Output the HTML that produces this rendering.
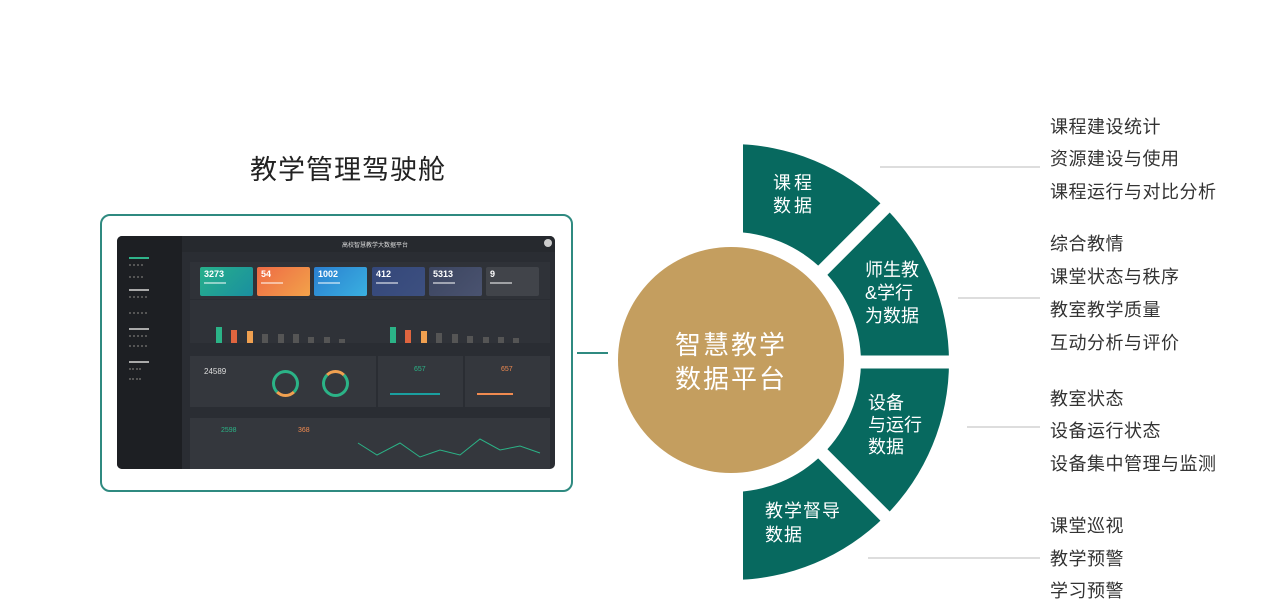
<!DOCTYPE html>
<html><head><meta charset="utf-8">
<style>
*{margin:0;padding:0;box-sizing:border-box}
body{width:1270px;height:608px;background:#fff;position:relative;overflow:hidden;font-family:"Liberation Sans","Noto Sans CJK SC",sans-serif}
.a{position:absolute}
.r{font-size:18px;color:#333;line-height:20px;white-space:nowrap;letter-spacing:0.5px}
.card{position:absolute;top:267px;height:29px;width:53px;border-radius:2px;color:#fff;font-size:9px;font-weight:bold;padding:2px 4px}
.card i{display:block;width:22px;height:2px;background:rgba(255,255,255,.5);margin-top:3px}
.pn{position:absolute;background:#34373d}
.bar{position:absolute;width:6px;bottom:0}
</style></head><body>
<div class="a" style="left:250px;top:148px;font-size:27px;color:#222;letter-spacing:1px">教学管理驾驶舱</div>
<div class="a" style="left:100px;top:214px;width:473px;height:278px;border:2px solid #2f8a80;border-radius:10px"></div>
<div class="a" style="left:577px;top:352px;width:31px;height:2px;background:#2f8a80"></div>

<!-- dashboard -->
<div class="a" style="left:117px;top:236px;width:438px;height:233px;background:#2a2d33;border-radius:5px;overflow:hidden">
  <div class="a" style="left:0;top:0;width:65px;height:233px;background:#1d1f23"></div>
  <div class="a" style="left:65px;top:0;width:373px;height:16px;background:#26292e"></div>
  <div class="a" style="left:225px;top:4px;font-size:6px;color:#ddd">高校智慧教学大数据平台</div>
  <div class="a" style="left:427px;top:3px;width:8px;height:8px;border-radius:50%;background:#ccc"></div>
  <div class="a" style="left:12px;top:21px;width:20px;height:2px;background:#2fb38a"></div>
  <div class="a" style="left:12px;top:28px;width:14px;height:14px;border-top:2px dotted #555;border-bottom:2px dotted #555"></div>
  <div class="a" style="left:12px;top:53px;width:20px;height:2px;background:#aaa"></div>
  <div class="a" style="left:12px;top:60px;width:18px;height:18px;border-top:2px dotted #555;border-bottom:2px dotted #555"></div>
  <div class="a" style="left:12px;top:92px;width:20px;height:2px;background:#aaa"></div>
  <div class="a" style="left:12px;top:99px;width:18px;height:12px;border-top:2px dotted #555;border-bottom:2px dotted #555"></div>
  <div class="a" style="left:12px;top:125px;width:20px;height:2px;background:#aaa"></div>
  <div class="a" style="left:12px;top:132px;width:12px;height:12px;border-top:2px dotted #555;border-bottom:2px dotted #555"></div>
</div>
<div class="pn" style="left:190px;top:262px;width:360px;height:37px;background:#2f3238"></div>
<div class="card" style="left:200px;background:linear-gradient(135deg,#27b08a,#1a8fa0)">3273<i></i></div>
<div class="card" style="left:257px;background:linear-gradient(135deg,#ee6a45,#f2a24a)">54<i></i></div>
<div class="card" style="left:314px;background:linear-gradient(135deg,#2a7fd0,#3ab0e0)">1002<i></i></div>
<div class="card" style="left:372px;background:linear-gradient(135deg,#34477a,#3d5080)">412<i></i></div>
<div class="card" style="left:429px;background:linear-gradient(135deg,#3c4560,#4a5370)">5313<i></i></div>
<div class="card" style="left:486px;background:#41444a">9<i></i></div>
<div class="pn" style="left:190px;top:300px;width:360px;height:43px;background:#2f3238">
  <div class="bar" style="left:26px;height:16px;background:#2bb387"></div>
  <div class="bar" style="left:41px;height:13px;background:#e0653f"></div>
  <div class="bar" style="left:57px;height:12px;background:#f0a050"></div>
  <div class="bar" style="left:72px;height:9px;background:#555"></div>
  <div class="bar" style="left:88px;height:9px;background:#555"></div>
  <div class="bar" style="left:103px;height:9px;background:#555"></div>
  <div class="bar" style="left:118px;height:6px;background:#555"></div>
  <div class="bar" style="left:134px;height:6px;background:#555"></div>
  <div class="bar" style="left:149px;height:4px;background:#555"></div>
  <div class="bar" style="left:200px;height:16px;background:#2bb387"></div>
  <div class="bar" style="left:215px;height:13px;background:#e0653f"></div>
  <div class="bar" style="left:231px;height:12px;background:#f0a050"></div>
  <div class="bar" style="left:246px;height:10px;background:#555"></div>
  <div class="bar" style="left:262px;height:9px;background:#555"></div>
  <div class="bar" style="left:277px;height:7px;background:#555"></div>
  <div class="bar" style="left:293px;height:6px;background:#555"></div>
  <div class="bar" style="left:308px;height:6px;background:#555"></div>
  <div class="bar" style="left:323px;height:5px;background:#555"></div>
</div>
<div class="pn" style="left:190px;top:356px;width:186px;height:51px"></div>
<div class="pn" style="left:378px;top:356px;width:85px;height:51px"></div>
<div class="pn" style="left:465px;top:356px;width:85px;height:51px"></div>
<div class="a" style="left:204px;top:367px;font-size:8px;color:#ddd">24589</div>
<div class="a" style="left:272px;top:370px;width:27px;height:27px;border-radius:50%;border:3px solid #2bb387;border-bottom-color:#f0a050"></div>
<div class="a" style="left:322px;top:370px;width:27px;height:27px;border-radius:50%;border:3px solid #2bb387;border-top-color:#f0a050"></div>
<div class="a" style="left:414px;top:366px;font-size:7px;color:#2bb387">657</div>
<div class="a" style="left:390px;top:393px;width:50px;height:2px;background:#1a9fa0"></div>
<div class="a" style="left:501px;top:366px;font-size:7px;color:#f08a50">657</div>
<div class="a" style="left:477px;top:393px;width:36px;height:2px;background:#f08a50"></div>
<div class="pn" style="left:190px;top:418px;width:360px;height:51px"></div>
<div class="a" style="left:221px;top:427px;font-size:7px;color:#2bb387">2598</div>
<div class="a" style="left:298px;top:427px;font-size:7px;color:#f08a50">368</div>
<svg class="a" style="left:355px;top:435px" width="195" height="30"><polyline points="3,8 22,20 45,8 65,22 85,15 105,20 125,4 145,15 165,11 185,18" fill="none" stroke="#2bb387" stroke-width="1"/></svg>

<!-- ring -->
<svg class="a" style="left:0;top:0" width="1270" height="608">
  <defs><clipPath id="c"><rect x="743" y="0" width="400" height="608"/></clipPath></defs>
  <g clip-path="url(#c)">
    <path d="M731,144 A218,218 0 0 1 731,580 L731,492 A130,130 0 0 0 731,232 Z" fill="#07695f"/>
  </g>
  <g stroke="#fff" stroke-width="13">
    <line x1="731" y1="362" x2="911" y2="182"/>
    <line x1="731" y1="362" x2="980" y2="362"/>
    <line x1="731" y1="362" x2="911" y2="542"/>
  </g>
  <circle cx="731" cy="360" r="113" fill="#c49e5f"/>
  <g stroke="#bbb" stroke-width="1">
    <line x1="880" y1="167" x2="1040" y2="167"/>
    <line x1="958" y1="298" x2="1040" y2="298"/>
    <line x1="967" y1="427" x2="1040" y2="427"/>
    <line x1="868" y1="558" x2="1040" y2="558"/>
  </g>
</svg>
<div class="a" style="left:631px;top:328px;font-size:26px;color:#fff;line-height:34px;letter-spacing:2px;text-align:center;width:200px;white-space:nowrap">智慧教学<br>数据平台</div>
<div class="a" style="left:773px;top:172px;font-size:18px;color:#fff;line-height:23px;letter-spacing:3px">课程<br>数据</div>
<div class="a" style="left:865px;top:259px;font-size:18px;color:#fff;line-height:23px">师生教<br>&amp;学行<br>为数据</div>
<div class="a" style="left:868px;top:392px;font-size:18px;color:#fff;line-height:22px">设备<br>与运行<br>数据</div>
<div class="a" style="left:765px;top:499px;font-size:18px;color:#fff;line-height:24px;letter-spacing:1px">教学督导<br>数据</div>

<div class="a r" style="left:1050px;top:117px">课程建设统计</div>
<div class="a r" style="left:1050px;top:149px">资源建设与使用</div>
<div class="a r" style="left:1050px;top:182px">课程运行与对比分析</div>
<div class="a r" style="left:1050px;top:234px">综合教情</div>
<div class="a r" style="left:1050px;top:267px">课堂状态与秩序</div>
<div class="a r" style="left:1050px;top:300px">教室教学质量</div>
<div class="a r" style="left:1050px;top:333px">互动分析与评价</div>
<div class="a r" style="left:1050px;top:389px">教室状态</div>
<div class="a r" style="left:1050px;top:421px">设备运行状态</div>
<div class="a r" style="left:1050px;top:454px">设备集中管理与监测</div>
<div class="a r" style="left:1050px;top:516px">课堂巡视</div>
<div class="a r" style="left:1050px;top:549px">教学预警</div>
<div class="a r" style="left:1050px;top:581px">学习预警</div>
</body></html>
